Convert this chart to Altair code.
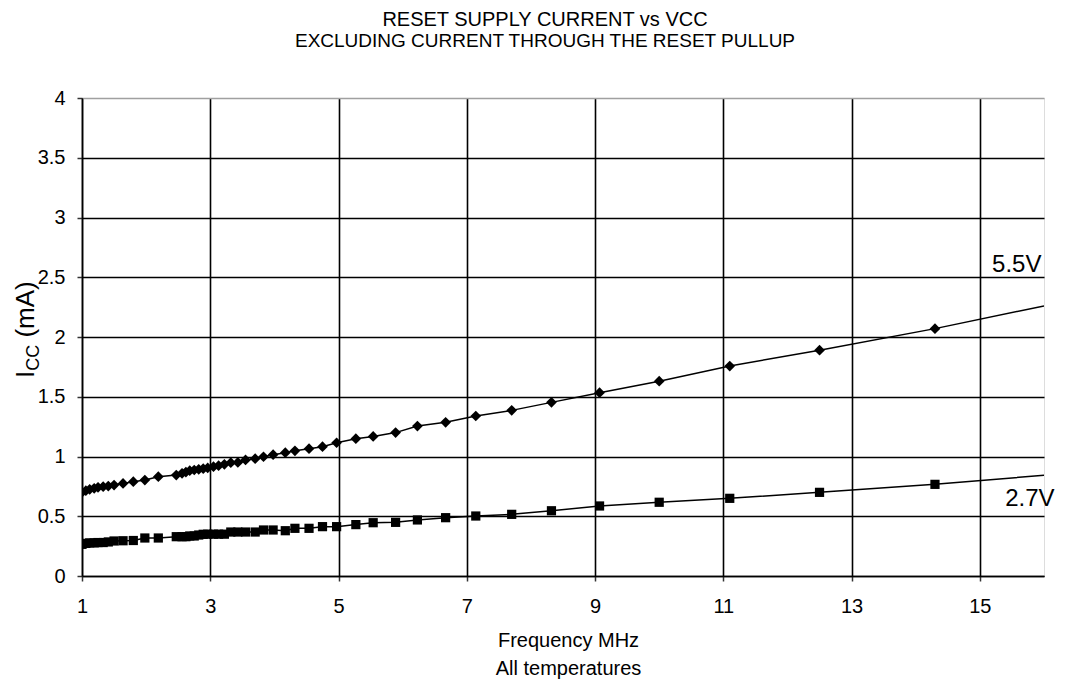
import altair as alt
import pandas as pd

# Frequency (MHz); last entry is where the line meets the right edge
freq = [1.00, 1.06, 1.12, 1.19, 1.25, 1.33, 1.41, 1.50, 1.64, 1.80, 1.98, 2.19,
        2.47, 2.56, 2.62, 2.68, 2.75, 2.82, 2.89, 2.96, 3.05, 3.13, 3.22, 3.32,
        3.43, 3.55, 3.70, 3.83, 3.98, 4.17, 4.32, 4.54, 4.75, 4.97, 5.27, 5.54,
        5.89, 6.23, 6.67, 7.14, 7.70, 8.32, 9.07, 10.0, 11.1, 12.5, 14.3, 16.0]

icc_55 = [0.700, 0.714, 0.725, 0.734, 0.742, 0.747, 0.753, 0.761, 0.775, 0.789, 0.803, 0.831,
          0.845, 0.859, 0.870, 0.881, 0.887, 0.893, 0.898, 0.904, 0.915, 0.923, 0.935, 0.948,
          0.950, 0.971, 0.982, 0.998, 1.015, 1.032, 1.048, 1.065, 1.082, 1.115, 1.149, 1.168,
          1.200, 1.255, 1.286, 1.339, 1.386, 1.453, 1.534, 1.630, 1.757, 1.890, 2.070, 2.260]

icc_27 = [0.265, 0.273, 0.277, 0.277, 0.280, 0.280, 0.285, 0.293, 0.295, 0.297, 0.318, 0.318,
          0.329, 0.329, 0.329, 0.335, 0.335, 0.343, 0.349, 0.350, 0.350, 0.350, 0.350, 0.368,
          0.368, 0.368, 0.368, 0.385, 0.385, 0.379, 0.399, 0.399, 0.413, 0.413, 0.430, 0.446,
          0.449, 0.469, 0.488, 0.502, 0.516, 0.546, 0.586, 0.617, 0.650, 0.700, 0.767, 0.843]

series_names = ["5.5V", "2.7V"]
x_ticks = [1, 3, 5, 7, 9, 11, 13, 15]
y_ticks = [0, 0.5, 1, 1.5, 2, 2.5, 3, 3.5, 4]

FONT = "Liberation Sans"

df = pd.concat([
    pd.DataFrame({"freq": freq, "icc": icc_55, "series": series_names[0]}),
    pd.DataFrame({"freq": freq, "icc": icc_27, "series": series_names[1]}),
])

x_enc = alt.X("freq:Q",
              scale=alt.Scale(domain=[1, 16], nice=False, zero=False),
              axis=alt.Axis(values=x_ticks, title=["Frequency MHz", "All temperatures"],
                            labelExpr="datum.value + ''",
                            titleFontSize=20, titleFont=FONT, titleFontWeight="normal",
                            titleColor="black", titleLineHeight=28, titlePadding=14,
                            titleX=486, labelFontSize=20, labelFont=FONT, labelColor="black",
                            labelPadding=15, tickSize=5, tickColor="#333333", tickWidth=1.5,
                            domainColor="black", domainWidth=1.5,
                            gridColor="black", gridWidth=1.6, gridOpacity=1, labelFlush=False))
y_enc = alt.Y("icc:Q",
              scale=alt.Scale(domain=[0, 4], nice=False),
              axis=alt.Axis(values=y_ticks, title=None, labelExpr="datum.value + ''",
                            labelFontSize=20, labelFont=FONT, labelColor="black",
                            labelPadding=12, tickSize=5, tickColor="#333333", tickWidth=1.5,
                            domainColor="black", domainWidth=1.5,
                            gridColor={"condition": {"test": "datum.value == 4", "value": "#a0a0a0"},
                                       "value": "black"},
                            gridWidth=1.6, gridOpacity=1))

base = alt.Chart(df)

lines = base.mark_line(color="black", strokeWidth=1.5, clip=True).encode(
    x=x_enc, y=y_enc, detail="series:N", order="freq:Q")

points = base.mark_point(filled=True, color="black", opacity=1, clip=True).encode(
    x="freq:Q", y="icc:Q",
    shape=alt.Shape("series:N", scale=alt.Scale(domain=series_names, range=["diamond", "square"]),
                    legend=None),
    size=alt.Size("series:N", scale=alt.Scale(domain=series_names, range=[115, 85]), legend=None),
).transform_filter("datum.freq < 16")

one = pd.DataFrame({"k": [0]})

lab55 = alt.Chart(one).mark_text(text="5.5V", fontSize=24, font=FONT, color="black",
                                 align="right", baseline="alphabetic").encode(
    x=alt.datum(15.96), y=alt.datum(2.544))
lab27 = alt.Chart(one).mark_text(text="2.7V", fontSize=24, font=FONT, color="black",
                                 align="center", baseline="alphabetic").encode(
    x=alt.datum(15.78), y=alt.datum(0.586))

yl_i = alt.Chart(one).mark_text(text="I", fontSize=26, font=FONT, color="black", angle=270,
                                align="left", baseline="alphabetic").encode(
    x=alt.value(-48), y=alt.value(280))
yl_cc = alt.Chart(one).mark_text(text="CC", fontSize=18, font=FONT, color="black", angle=270,
                                 align="left", baseline="alphabetic").encode(
    x=alt.value(-43), y=alt.value(272.8))
yl_ma = alt.Chart(one).mark_text(text="(mA)", fontSize=26, font=FONT, color="black", angle=270,
                                 align="left", baseline="alphabetic").encode(
    x=alt.value(-48), y=alt.value(239.6))

chart = alt.layer(lines, points, lab55, lab27, yl_i, yl_cc, yl_ma).properties(
    width=962, height=478,
    title=alt.TitleParams(text="RESET SUPPLY CURRENT vs VCC",
                          subtitle="EXCLUDING CURRENT THROUGH THE RESET PULLUP",
                          font=FONT, fontSize=20, fontWeight="normal", color="black",
                          subtitleFont=FONT, subtitleFontSize=19, subtitleColor="black",
                          anchor="middle", dx=-18, offset=37, subtitlePadding=2),
    autosize=alt.AutoSizeParams(type="none"),
    padding={"left": 74, "top": 90, "right": 25, "bottom": 104},
).configure_view(stroke="#a0a0a0", strokeWidth=1.5).configure(background="white")

chart.save("out.html", embed_options={"renderer": "svg", "actions": False})
